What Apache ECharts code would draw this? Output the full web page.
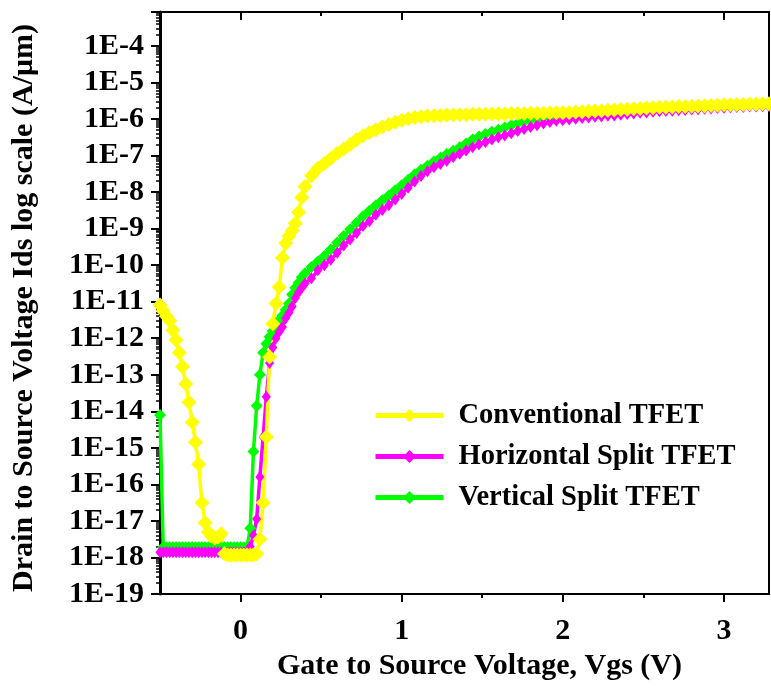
<!DOCTYPE html>
<html>
<head>
<meta charset="utf-8">
<script src="https://cdn.jsdelivr.net/npm/echarts@6/dist/echarts.min.js"></script>
<style>
  html, body { margin: 0; padding: 0; background: #fff; }
  #chart { width: 771px; height: 689px; }
</style>
</head>
<body>
<div id="chart"></div>
<script>
// Vgs (V) sample points
var vgs = [
  -0.50,-0.48,-0.46,-0.44,-0.42,-0.40,-0.38,-0.36,-0.34,-0.32,
  -0.30,-0.28,-0.26,-0.24,-0.22,-0.20,-0.18,-0.16,-0.14,-0.12,
  -0.10,-0.08,-0.06,-0.04,-0.02,0.00,0.02,0.04,0.06,0.08,
  0.10,0.12,0.14,0.16,0.18,0.20,0.22,0.24,0.26,0.28,
  0.30,0.32,0.34,0.36,0.38,0.40,0.44,0.48,0.52,0.56,
  0.60,0.64,0.68,0.72,0.76,0.80,0.84,0.88,0.92,0.96,
  1.00,1.04,1.08,1.12,1.16,1.20,1.24,1.28,1.32,1.36,
  1.40,1.44,1.48,1.52,1.56,1.60,1.64,1.68,1.72,1.76,
  1.80,1.84,1.88,1.92,1.96,2.00,2.04,2.08,2.12,2.16,
  2.20,2.24,2.28,2.32,2.36,2.40,2.44,2.48,2.52,2.56,
  2.60,2.64,2.68,2.72,2.76,2.80,2.84,2.88,2.92,2.96,
  3.00,3.04,3.08,3.12,3.16,3.20,3.24,3.28
];

// Ids given as log10(A/um) exponents
var convLog = [
  -11.09,-11.25,-11.40,-11.52,-11.78,-12.05,-12.40,-12.78,-13.25,-13.75,
  -14.30,-14.85,-15.45,-16.50,-17.05,-17.30,-17.42,-17.47,-17.45,-17.35,
  -17.90,-17.93,-17.93,-17.93,-17.93,-17.93,-17.93,-17.93,-17.93,-17.93,
  -17.90,-17.50,-16.50,-14.70,-12.51,-11.60,-11.05,-10.60,-9.80,-9.40,
  -9.20,-9.05,-8.85,-8.55,-8.15,-7.85,-7.55,-7.35,-7.22,-7.08,
  -6.94,-6.82,-6.70,-6.57,-6.46,-6.37,-6.29,-6.22,-6.15,-6.09,
  -6.03,-5.99,-5.96,-5.94,-5.92,-5.91,-5.90,-5.89,-5.89,-5.88,
  -5.88,-5.87,-5.87,-5.87,-5.86,-5.86,-5.86,-5.85,-5.85,-5.85,
  -5.84,-5.84,-5.84,-5.83,-5.83,-5.83,-5.82,-5.81,-5.80,-5.79,
  -5.78,-5.77,-5.76,-5.75,-5.74,-5.73,-5.72,-5.71,-5.70,-5.69,
  -5.68,-5.68,-5.67,-5.66,-5.66,-5.65,-5.64,-5.64,-5.63,-5.62,
  -5.61,-5.61,-5.60,-5.60,-5.59,-5.59,-5.58,-5.58
];
var horzLog = [
  -17.86,-17.86,-17.86,-17.86,-17.86,-17.86,-17.86,-17.86,-17.86,-17.86,
  -17.86,-17.86,-17.86,-17.86,-17.86,-17.86,-17.86,-17.86,-17.86,-17.86,
  -17.86,-17.86,-17.86,-17.86,-17.86,-17.86,-17.86,-17.86,-17.70,-17.40,
  -16.95,-15.80,-14.70,-13.60,-12.68,-12.25,-12.00,-11.82,-11.69,-11.45,
  -11.30,-11.13,-10.90,-10.74,-10.62,-10.50,-10.36,-10.14,-10.00,-9.85,
  -9.66,-9.46,-9.30,-9.12,-8.93,-8.80,-8.62,-8.49,-8.36,-8.20,
  -8.05,-7.88,-7.71,-7.56,-7.43,-7.32,-7.23,-7.14,-7.04,-6.95,
  -6.86,-6.77,-6.70,-6.63,-6.56,-6.50,-6.45,-6.39,-6.33,-6.27,
  -6.22,-6.17,-6.12,-6.08,-6.05,-6.03,-6.01,-5.99,-5.97,-5.96,
  -5.94,-5.93,-5.91,-5.90,-5.88,-5.86,-5.85,-5.83,-5.82,-5.80,
  -5.79,-5.78,-5.77,-5.76,-5.75,-5.74,-5.73,-5.72,-5.71,-5.70,
  -5.69,-5.68,-5.67,-5.67,-5.66,-5.66,-5.65,-5.65
];
var vertLog = [
  -14.10,-17.72,-17.72,-17.72,-17.72,-17.72,-17.72,-17.72,-17.72,-17.72,
  -17.72,-17.72,-17.72,-17.72,-17.72,-17.72,-17.72,-17.72,-17.72,-17.72,
  -17.72,-17.72,-17.72,-17.72,-17.72,-17.72,-17.72,-17.72,-17.20,-15.10,
  -13.85,-13.00,-12.40,-12.15,-11.96,-11.80,-11.62,-11.50,-11.38,-11.22,
  -11.05,-10.80,-10.62,-10.48,-10.33,-10.22,-10.05,-9.90,-9.75,-9.57,
  -9.38,-9.20,-9.02,-8.84,-8.66,-8.51,-8.36,-8.22,-8.09,-7.95,
  -7.81,-7.66,-7.52,-7.39,-7.28,-7.16,-7.06,-6.96,-6.87,-6.77,
  -6.67,-6.56,-6.48,-6.41,-6.35,-6.29,-6.23,-6.17,-6.12,-6.07,
  -6.03,-5.99,-5.96,-5.94,-5.92,-5.90,-5.88,-5.87,-5.86,-5.85,
  -5.84,-5.83,-5.81,-5.80,-5.79,-5.78,-5.77,-5.76,-5.75,-5.74,
  -5.73,-5.72,-5.71,-5.70,-5.70,-5.69,-5.68,-5.68,-5.67,-5.66,
  -5.65,-5.65,-5.64,-5.64,-5.63,-5.63,-5.62,-5.62
];

var seriesNames = ['Conventional TFET', 'Horizontal Split TFET', 'Vertical Split TFET'];
var xMajor = [0, 1, 2, 3];
var xMinor = [0.5, 1.5, 2.5];

// minor log ticks 2..9 inside each decade
var yMinor = [];
for (var e = -19; e <= -4; e++) {
  for (var k = 2; k <= 9; k++) yMinor.push(k * Math.pow(10, e));
}

function toPoints(logs) {
  return vgs.map(function (v, i) { return [v, Math.pow(10, logs[i])]; });
}

var serif = 'Liberation Serif';
var chart = echarts.init(document.getElementById('chart'));

function xAx(pos, ticks, len, inside, showLine) {
  return {
    type: 'value', position: pos, min: -0.5, max: 3.28,
    axisLine: { show: showLine, onZero: false, lineStyle: { color: '#000', width: 2 } },
    axisTick: { show: true, inside: inside, length: len, customValues: ticks, lineStyle: { color: '#000', width: 2 } },
    axisLabel: { show: false },
    splitLine: { show: false }
  };
}

var bottomAxis = xAx('bottom', xMajor, 8, false, true);
bottomAxis.axisLabel = {
  show: true, customValues: xMajor, margin: 22,
  fontFamily: serif, fontWeight: 'bold', fontSize: 30, color: '#000'
};
bottomAxis.name = 'Gate to Source Voltage, Vgs (V)';
bottomAxis.nameLocation = 'middle';
bottomAxis.nameGap = 57;
bottomAxis.nameTextStyle = { fontFamily: serif, fontWeight: 'bold', fontSize: 30, color: '#000', padding: [0, 0, 0, 30] };

var option = {
  animation: false,
  backgroundColor: '#fff',
  grid: { left: 160, right: 2, top: 12, bottom: 95, show: true, borderColor: '#000', borderWidth: 2 },
  legend: {
    orient: 'vertical', left: 368, top: 396,
    itemWidth: 68, itemHeight: 16, itemGap: 12,
    data: seriesNames,
    lineStyle: { width: 5 },
    textStyle: { fontFamily: serif, fontWeight: 'bold', fontSize: 28.5, color: '#000', padding: [0, 0, 0, 10] }
  },
  xAxis: [
    bottomAxis,
    xAx('bottom', xMinor, 4, false, false),
    xAx('top', xMajor, 8, true, true),
    xAx('top', xMinor, 4, true, false)
  ],
  yAxis: [{
    type: 'log', logBase: 10, min: 1e-19, max: 8.5e-4, interval: 1,
    position: 'left',
    axisLine: { show: true, onZero: false, lineStyle: { color: '#000', width: 3 } },
    axisTick: { show: true, length: 9, lineStyle: { color: '#000', width: 2 } },
    axisLabel: {
      margin: 16, fontFamily: serif, fontWeight: 'bold', fontSize: 30, color: '#000',
      formatter: function (v) {
        var p = Math.log10(v);
        if (Math.abs(p - Math.round(p)) > 1e-6) return '';
        return '1E' + Math.round(p);
      }
    },
    splitLine: { show: false },
    name: 'Drain to Source Voltage Ids log scale (A/\u03bcm)',
    nameLocation: 'middle', nameGap: 121,
    nameTextStyle: { fontFamily: serif, fontWeight: 'bold', fontSize: 30, color: '#000', padding: [0, 10, 0, 0] }
  }, {
    type: 'log', logBase: 10, min: 1e-19, max: 8.5e-4, position: 'left',
    axisLine: { show: false, onZero: false },
    axisTick: { show: true, length: 4, customValues: yMinor, lineStyle: { color: '#000', width: 1.5 } },
    axisLabel: { show: false },
    splitLine: { show: false }
  }],
  series: [{
    name: seriesNames[2], type: 'line', data: toPoints(vertLog),
    symbol: 'diamond', symbolSize: 12, showAllSymbol: true,
    itemStyle: { color: '#00ff00' }, lineStyle: { color: '#00ff00', width: 3.5 }
  }, {
    name: seriesNames[1], type: 'line', data: toPoints(horzLog),
    symbol: 'diamond', symbolSize: [9, 12], showAllSymbol: true,
    itemStyle: { color: '#ff00ff' }, lineStyle: { color: '#ff00ff', width: 3.5 }
  }, {
    name: seriesNames[0], type: 'line', data: toPoints(convLog),
    symbol: 'diamond', symbolSize: 15, showAllSymbol: true,
    itemStyle: { color: '#ffff00' }, lineStyle: { color: '#ffff00', width: 3.5 }
  }]
};

chart.setOption(option);
</script>
</body>
</html>
